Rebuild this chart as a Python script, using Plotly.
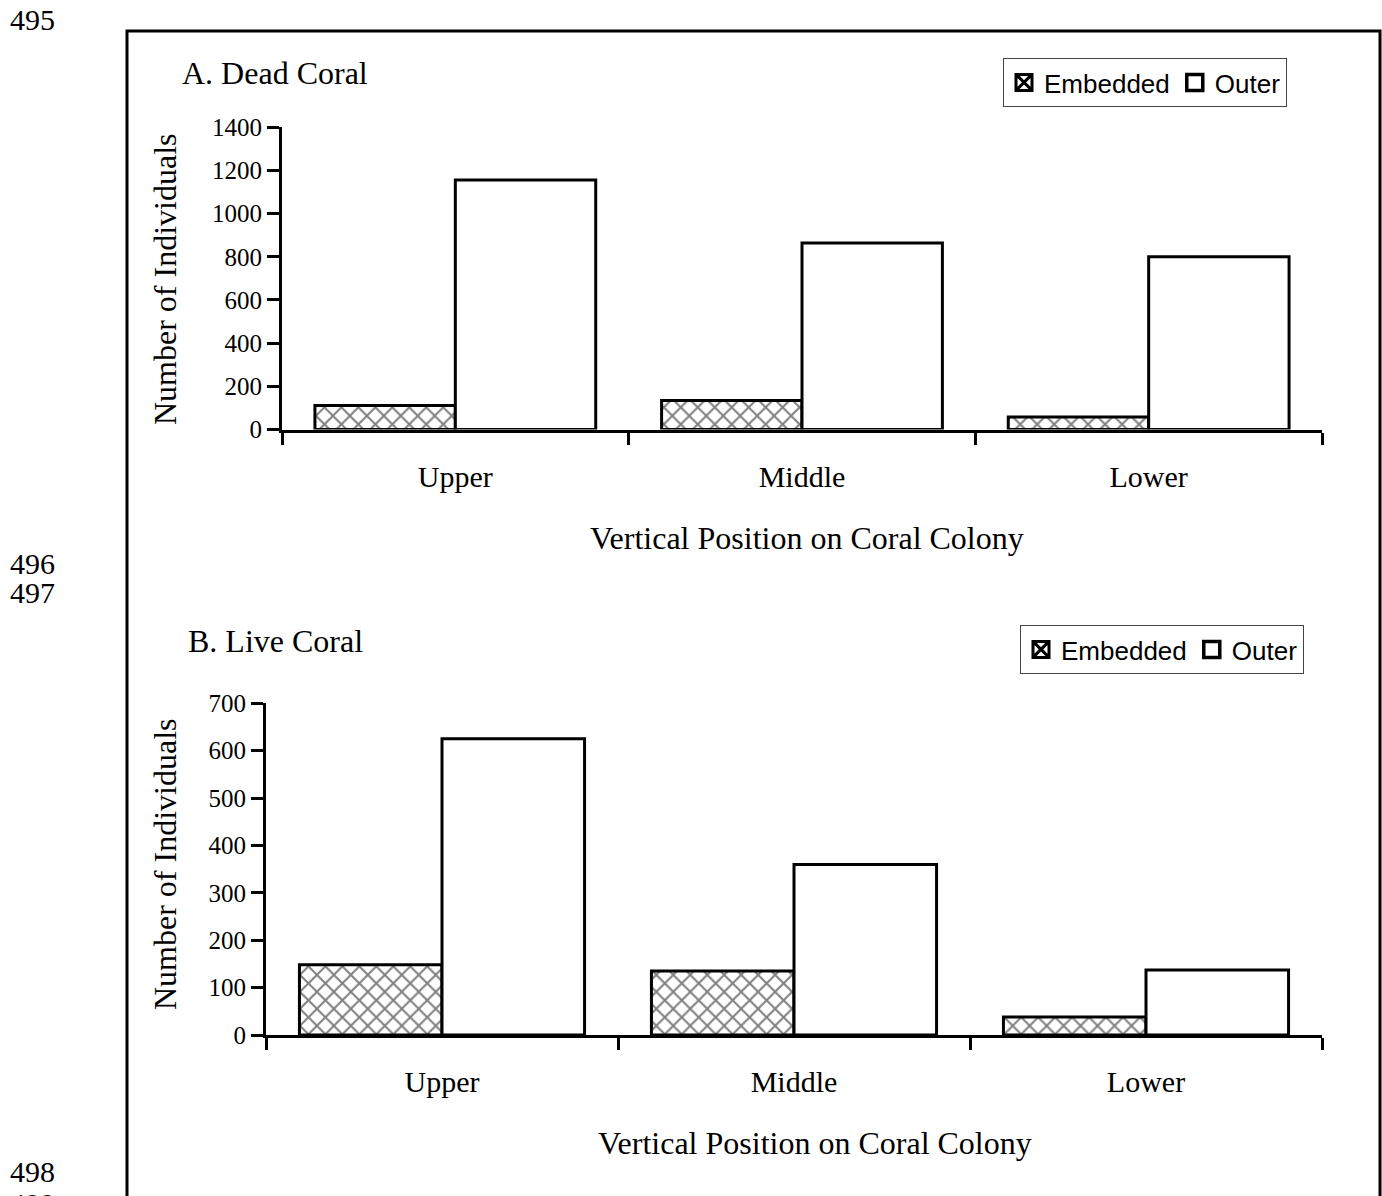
import plotly.graph_objects as go

# ---------------- data ----------------
categories = ["Upper", "Middle", "Lower"]
dead_embedded = [111, 134, 58]
dead_outer = [1156, 864, 800]
live_embedded = [148, 135, 38]
live_outer = [625, 360, 137]
dead_ticks = [0, 200, 400, 600, 800, 1000, 1200, 1400]
live_ticks = [0, 100, 200, 300, 400, 500, 600, 700]
series_names = ["Embedded", "Outer"]
line_numbers = ["495", "496", "497", "498", "499"]

W, H = 1382, 1196


def px(x):
    return x / W


def py(y):
    return 1 - y / H


SERIF = "Liberation Serif, Times New Roman, serif"
SANS = "Liberation Sans, Arial, sans-serif"

emb_marker = dict(
    color="white",
    line=dict(color="black", width=3),
    pattern=dict(shape="x", fgcolor="black", bgcolor="white", size=12, solidity=0.3),
)
out_marker = dict(color="white", line=dict(color="black", width=3))

fig = go.Figure()
panels = [("x", "y", "legend", dead_embedded, dead_outer),
          ("x2", "y2", "legend2", live_embedded, live_outer)]
for xa, ya, leg, emb, out in panels:
    fig.add_trace(go.Bar(x=categories, y=emb, name=series_names[0], marker=emb_marker,
                         xaxis=xa, yaxis=ya, showlegend=False))
    fig.add_trace(go.Bar(x=categories, y=out, name=series_names[1], marker=out_marker,
                         xaxis=xa, yaxis=ya, showlegend=False))
    # legend keys (no data points; only shown in the legend box)
    fig.add_trace(go.Scatter(x=[None], y=[None], mode="markers", name=series_names[0],
                             marker=dict(symbol="square-x", size=16, color="white",
                                         line=dict(color="black", width=3)),
                             xaxis=xa, yaxis=ya, legend=leg))
    fig.add_trace(go.Scatter(x=[None], y=[None], mode="markers", name=series_names[1],
                             marker=dict(symbol="square", size=16, color="white",
                                         line=dict(color="black", width=3.5)),
                             xaxis=xa, yaxis=ya, legend=leg))

xcommon = dict(type="category", showline=True, linecolor="black", linewidth=3,
               ticks="outside", tickson="boundaries", ticklen=12, tickwidth=3,
               tickcolor="black", showgrid=False, zeroline=False, range=[-0.5, 2.5],
               tickfont=dict(family=SERIF, size=30, color="black"),
               ticklabelstandoff=18, automargin=False)
ycommon = dict(showline=True, linecolor="black", linewidth=3, ticks="outside",
               ticklen=12, tickwidth=3, tickcolor="black", showgrid=False,
               zeroline=False, tickfont=dict(family=SERIF, size=25, color="black"),
               automargin=False)

legcommon = dict(orientation="h", xanchor="left", yanchor="top", bordercolor="#444",
                 borderwidth=1, bgcolor="white", itemwidth=30, itemsizing="trace",
                 font=dict(family=SANS, size=26, color="black"))

fig.update_layout(
    width=W, height=H, margin=dict(l=0, r=0, t=0, b=0, pad=0, autoexpand=False),
    paper_bgcolor="white", plot_bgcolor="white",
    barmode="group", bargap=0.19, bargroupgap=0,
    xaxis=dict(domain=[px(282), px(1322)], anchor="y", categoryarray=categories,
               categoryorder="array", **xcommon),
    yaxis=dict(domain=[py(429.5), py(127.3)], anchor="x", range=[0, 1400],
               tickvals=dead_ticks, **ycommon),
    xaxis2=dict(domain=[px(266), px(1322)], anchor="y2", categoryarray=categories,
                categoryorder="array", **xcommon),
    yaxis2=dict(domain=[py(1035), py(703.3)], anchor="x2", range=[0, 700],
                tickvals=live_ticks, **ycommon),
    legend=dict(x=px(1003), y=py(58), **legcommon),
    legend2=dict(x=px(1020), y=py(625), **legcommon),
    showlegend=True,
)

ann = []


def text(t, x, y, size=32, angle=0, xanchor="center", family=SERIF):
    ann.append(dict(text=t, x=px(x), y=py(y), xref="paper", yref="paper",
                    showarrow=False, xanchor=xanchor, yanchor="middle",
                    textangle=angle, font=dict(family=family, size=size, color="black")))


text("A. Dead Coral", 180, 73, xanchor="left")
text("B. Live Coral", 186, 641, xanchor="left")
text("Number of Individuals", 165, 279, angle=-90)
text("Number of Individuals", 165, 864, angle=-90)
text("Vertical Position on Coral Colony", 807, 538)
text("Vertical Position on Coral Colony", 815, 1143)
for t, y in zip(line_numbers, [20, 563, 592, 1171, 1203]):
    text(t, 8, y, size=30, xanchor="left")

fig.update_layout(annotations=ann)
fig.add_shape(type="rect", xref="paper", yref="paper", x0=px(127), x1=px(1380),
              y0=py(1300), y1=py(31), line=dict(color="black", width=3),
              fillcolor="rgba(0,0,0,0)", layer="above")

fig.write_html("out.html", config={"displayModeBar": False},
               post_script="document.body.style.margin='0';document.body.style.overflow='hidden';")
